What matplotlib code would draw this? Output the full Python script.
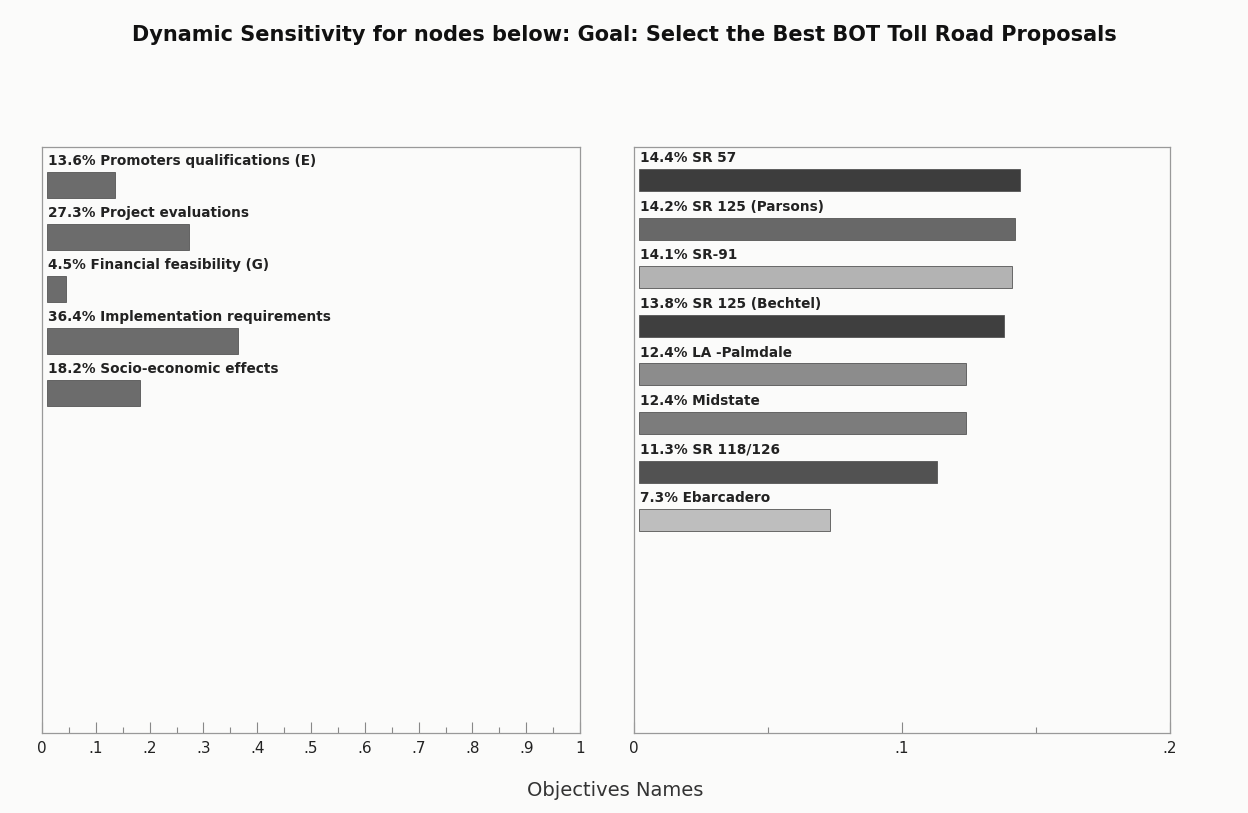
import numpy as np
import matplotlib.pyplot as plt
from matplotlib.ticker import MultipleLocator, FuncFormatter

### Data ###
objNames = ['Promoters qualifications (E)', 'Project evaluations', 'Financial feasibility (G)',
            'Implementation requirements', 'Socio-economic effects']
objWeights = [0.136, 0.273, 0.045, 0.364, 0.182]

altNames = ['SR 57', 'SR 125 (Parsons)', 'SR-91', 'SR 125 (Bechtel)', 'LA -Palmdale',
            'Midstate', 'SR 118/126', 'Ebarcadero']
altWeights = [0.144, 0.142, 0.141, 0.138, 0.124, 0.124, 0.113, 0.073]
altColors = ['#3d3d3d', '#686868', '#b3b3b3', '#3f3f3f', '#8c8c8c', '#7c7c7c', '#525252', '#bebebe']

plt.rc('font', family='DejaVu Sans')
bg = '#fbfbfa'

fig = plt.figure(figsize=(12.48, 8.13), dpi=100, facecolor=bg)

def fmt(v, pos):
    if abs(v) < 1e-9:
        return '0'
    if abs(v - 1) < 1e-9:
        return '1'
    return ('%.1f' % v).lstrip('0')

def panel(rect, names, weights, colors, xmax, nslots, top, barh):
    ax = fig.add_axes(rect, facecolor=bg)
    y = np.arange(len(names))
    inset = 0.009 * xmax
    w = np.array(weights)
    # bars sit a few pixels in from the spine but still end at their value
    ax.barh(y, w - inset, height=barh, left=inset, color=colors,
            edgecolor='#555555', linewidth=0.6)
    for i, (n, v) in enumerate(zip(names, weights)):
        ax.text(0.011 * xmax, i - barh / 2 - 0.08, '%.1f%% %s' % (v * 100, n),
                fontsize=9.8, fontweight='semibold', color='#222222', va='bottom', ha='left')
    ax.set_xlim(0, xmax)
    ax.set_ylim(nslots - top, -top)
    ax.set_yticks([])
    ax.xaxis.set_major_locator(MultipleLocator(0.1))
    ax.xaxis.set_minor_locator(MultipleLocator(0.05))
    ax.xaxis.set_major_formatter(FuncFormatter(fmt))
    ax.tick_params(axis='x', which='major', direction='in', length=8, width=0.8,
                   colors='#888888', labelcolor='#222222', labelsize=11, pad=6)
    ax.tick_params(axis='x', which='minor', direction='in', length=4, width=0.8, colors='#888888')
    for s in ax.spines.values():
        s.set_color('#999999')
        s.set_linewidth(0.9)
    return ax

# left: objectives
panel([42 / 1248, 80 / 813, 538 / 1248, 586 / 813], objNames, objWeights,
      ['#6c6c6c'] * len(objNames), 1.0, 11.27, 0.73, 0.5)

# right: alternatives
panel([634 / 1248, 80 / 813, 536 / 1248, 586 / 813], altNames, altWeights,
      altColors, 0.2, 12.06, 0.68, 0.45)

fig.text(0.5, 0.957, 'Dynamic Sensitivity for nodes below: Goal: Select the Best BOT Toll Road Proposals',
         ha='center', va='center', fontsize=15, fontweight='bold', color='#111111')
fig.text(615 / 1248, 1 - 790 / 813, 'Objectives Names', ha='center', va='center',
         fontsize=14, color='#333333')

fig.savefig('out.png', dpi=100, facecolor=bg)
